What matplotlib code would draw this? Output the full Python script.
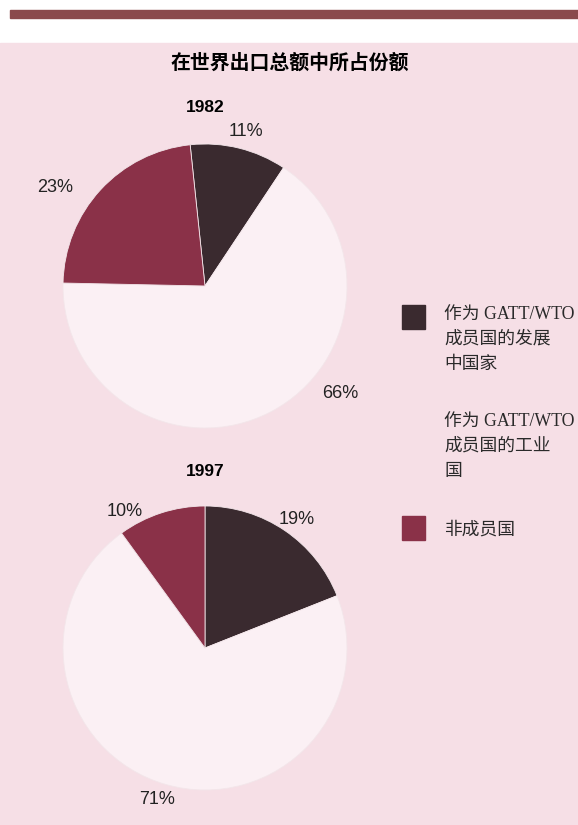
import matplotlib.pyplot as plt
from matplotlib.patches import Rectangle

plt.rcParams['font.family'] = ['Liberation Sans', 'Noto Sans CJK SC', 'DejaVu Sans']

title = '在世界出口总额中所占份额'
years = ['1982', '1997']
shares_1982 = [11, 66, 23]
shares_1997 = [19, 71, 10]
labels = ['作为 GATT/WTO\n成员国的发展\n中国家',
          '作为 GATT/WTO\n成员国的工业\n国',
          '非成员国']
colors = ['#3a2a2f', '#fbf0f4', '#8a3148']

W, H = 578, 825
bg = '#f6dfe6'

fig = plt.figure(figsize=(W / 100, H / 100), dpi=100)
fig.patch.set_facecolor('white')
ax = fig.add_axes([0, 0, 1, 1])
ax.set_xlim(0, W)
ax.set_ylim(0, H)
ax.set_aspect('equal')
ax.axis('off')

# page furniture
ax.add_patch(Rectangle((0, 0), W, H - 43, color=bg, zorder=0))
ax.add_patch(Rectangle((10, H - 18), W - 10, 8, color='#8a4a4c', zorder=0))

ax.text(290, H - 62, title, ha='center', va='center', fontsize=14.3,
        fontweight='bold', family=['Noto Sans CJK SC'])

# pies
r = 142
ax.pie(shares_1982, colors=colors, startangle=96, counterclock=False,
       center=(205, H - 286), radius=r, frame=True,
       wedgeprops=dict(linewidth=0.6, edgecolor='#f3e6ea'))
ax.pie(shares_1997, colors=colors, startangle=90, counterclock=False,
       center=(205, H - 648), radius=r, frame=True,
       wedgeprops=dict(linewidth=0.6, edgecolor='#f3e6ea'))
ax.set_xlim(0, W)
ax.set_ylim(0, H)
ax.axis('off')

ax.text(205, H - 107, years[0], ha='center', va='center', fontsize=12.5, fontweight='bold')
ax.text(205, H - 472, years[1], ha='center', va='center', fontsize=12.5, fontweight='bold')

pct_pos_1982 = [(246, 131), (340, 393), (55, 188)]
pct_pos_1997 = [(297, 519), (157, 800), (125, 511)]
for v, (x, y) in zip(shares_1982, pct_pos_1982):
    ax.text(x, H - y, f'{v}%', ha='center', va='center', fontsize=13, color='#222222')
for v, (x, y) in zip(shares_1997, pct_pos_1997):
    ax.text(x, H - y, f'{v}%', ha='center', va='center', fontsize=13, color='#222222')

# legend
leg_y = [305, 410, 516]
text_top = [306, 413, 522]
for lab, c, y, ty in zip(labels, colors, leg_y, text_top):
    if c != colors[1]:
        ax.add_patch(Rectangle((402, H - y - 24), 23, 24, color=c))
    ax.text(444, H - ty, lab, ha='left', va='top', fontsize=12.8,
            linespacing=1.6, color='#2a2a2a',
            family=['Liberation Serif', 'Noto Sans CJK SC'])

fig.savefig('out.png', dpi=100, facecolor=fig.get_facecolor())
